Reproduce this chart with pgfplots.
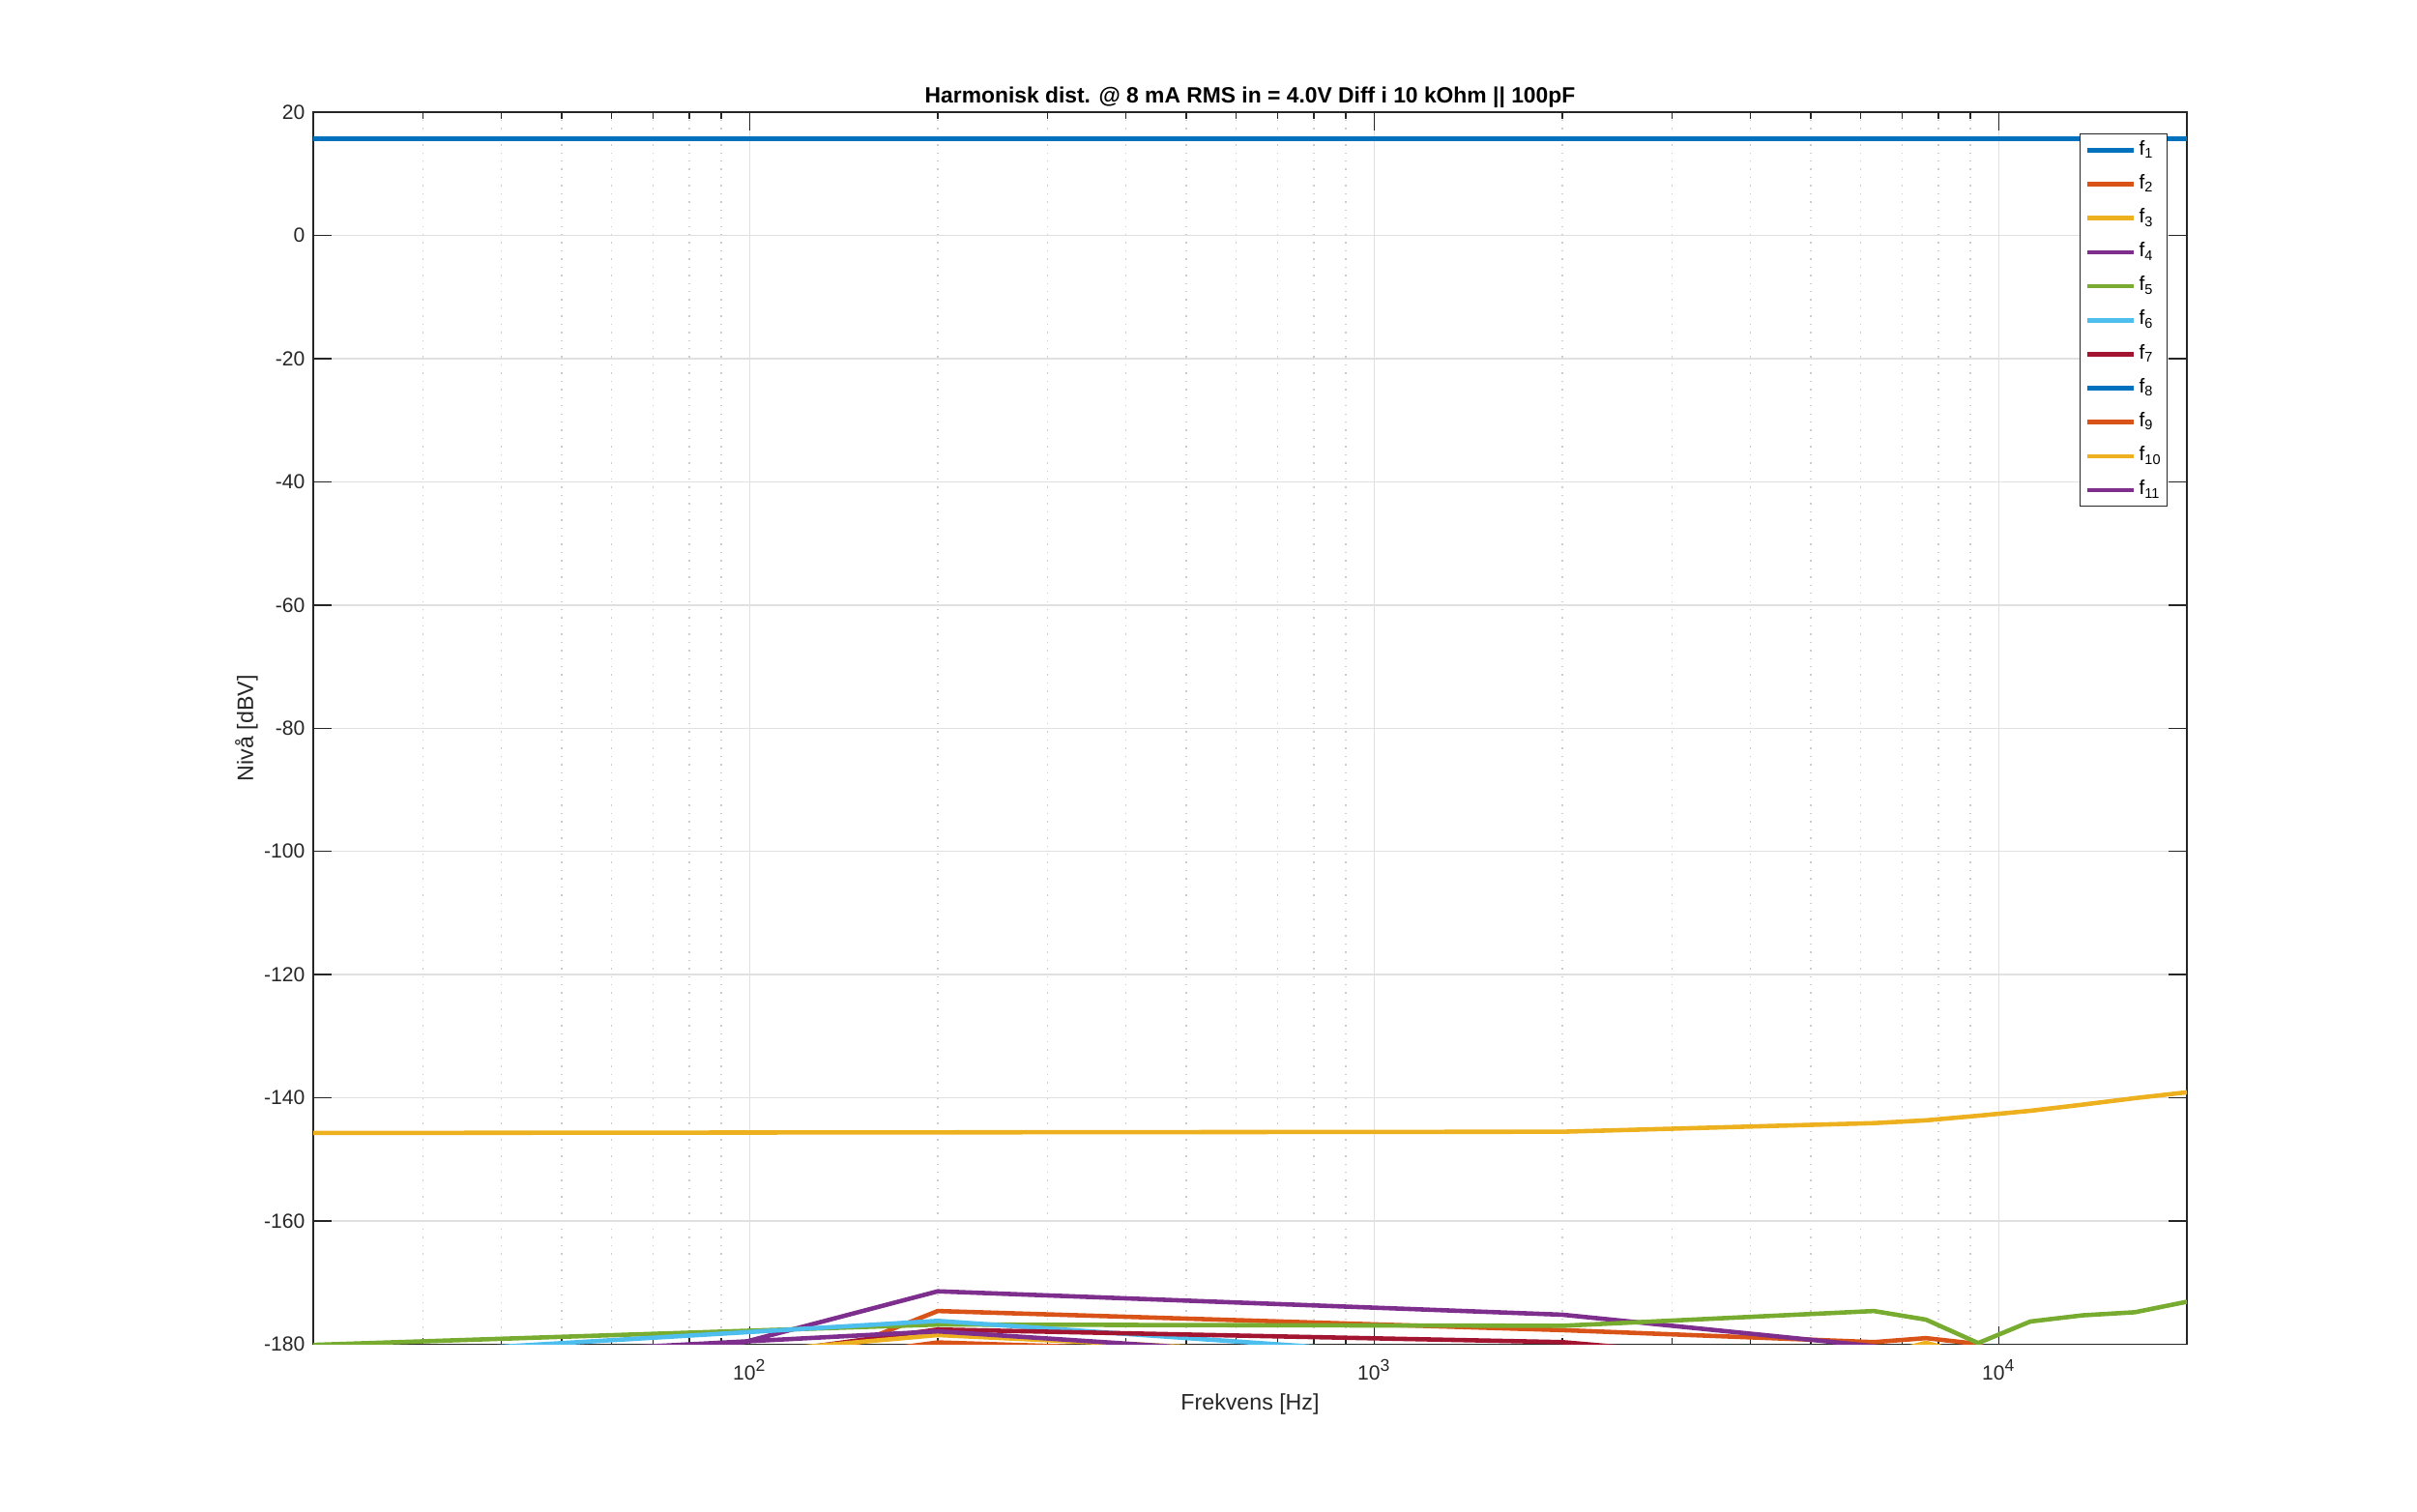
\documentclass[border=0pt]{standalone}
\usepackage{fontspec}
\setmainfont{Liberation Sans}
\usepackage{pgfplots}
\pgfplotsset{compat=1.18}

\definecolor{axcol}{RGB}{38,38,38}
\definecolor{c1}{RGB}{0,114,189}
\definecolor{c2}{RGB}{217,83,25}
\definecolor{c3}{RGB}{237,177,32}
\definecolor{c4}{RGB}{126,47,142}
\definecolor{c5}{RGB}{119,172,48}
\definecolor{c6}{RGB}{77,190,238}
\definecolor{c7}{RGB}{162,20,47}

\begin{document}
\begin{tikzpicture}
% page frame, same proportions as the 2500x1563 figure (1 cm = 100 px)
\path (-3.24,-1.725) rectangle (21.76,13.905);
\begin{axis}[
  at={(0,0)}, anchor=south west,
  scale only axis, width=19.38cm, height=12.745cm,
  xmode=log,
  xmin=20, xmax=20000, ymin=-180, ymax=20,
  xtick={100,1000,10000},
  xticklabels={10\textsuperscript{2},10\textsuperscript{3},10\textsuperscript{4}},
  minor xtick={30,40,50,60,70,80,90,200,300,400,500,600,700,800,900,2000,3000,4000,5000,6000,7000,8000,9000},
  ytick={-180,-160,...,20},
  /pgf/number format/assume math mode=true,
  tick align=inside,
  major tick length=0.19cm, minor tick length=0.07cm,
  every tick/.style={axcol, line width=0.4pt},
  axis line style={axcol, line width=0.45pt},
  xmajorgrids, ymajorgrids, xminorgrids,
  major grid style={color=black!12, line width=0.4pt},
  minor grid style={color=black!20, dotted, line width=0.4pt},
  ticklabel style={font=\fontsize{6.0}{7}\selectfont, text=axcol},
  xticklabel style={anchor=base, inner sep=0pt, yshift=-0.37cm},
  yticklabel style={anchor=east, inner sep=0pt, xshift=-0.08cm},
  every axis title shift=0pt,
  title={Harmonisk dist. @ 8 mA RMS in = 4.0V Diff i 10 kOhm || 100pF},
  title style={at={(axis description cs:0.5,1.0071)}, anchor=base, inner sep=0pt,
    font=\bfseries\fontsize{6.5}{7.5}\selectfont, text=black},
  xlabel={Frekvens [Hz]},
  xlabel style={at={(axis description cs:0.5,-0.053)}, anchor=base, inner sep=0pt,
    font=\fontsize{6.6}{7.5}\selectfont, text=axcol},
  ylabel={Nivå [dBV]},
  ylabel style={at={(axis description cs:-0.032,0.5)}, anchor=base, inner sep=0pt,
    font=\fontsize{6.6}{7.5}\selectfont, text=axcol},
  legend style={
    at={(axis description cs:0.9897,0.9827)}, anchor=north east,
    draw=axcol, line width=0.4pt, fill=white,
    font=\fontsize{5.9}{6.5}\selectfont, text=black,
    inner xsep=0.05cm, inner ysep=0.06cm,
    nodes={inner sep=0pt, text height=4.4pt, text depth=1.7pt, anchor=west},
    row sep=3.9pt, column sep=0.035cm,
  },
  legend cell align=left,
  legend image code/.code={\draw[#1] (0cm,0cm) -- (0.48cm,0cm);},
  every axis plot/.append style={line width=1.3pt},
]
% f1
\addplot[c1] coordinates {(20,15.7) (200,15.7) (2000,15.7) (6306,15.7) (7643,15.7)
  (9265,15.7) (11230,15.7) (13612,15.7) (16500,15.7) (20000,15.7)};
\addlegendentry{f\textsubscript{1}}
% f2
\addplot[c2] coordinates {(20,-214.8) (200,-174.6) (2000,-177.7) (6306,-179.65) (7643,-179.0)
  (9265,-179.95) (11230,-185) (13612,-188) (16500,-188) (20000,-188)};
\addlegendentry{f\textsubscript{2}}
% f3
\addplot[c3] coordinates {(20,-145.7) (200,-145.6) (2000,-145.5) (6306,-144.1) (7643,-143.65)
  (9265,-142.9) (11230,-142.1) (13612,-141.1) (16500,-140.05) (20000,-139.1)};
\addlegendentry{f\textsubscript{3}}
% f4
\addplot[c4] coordinates {(20,-198) (200,-171.4) (2000,-175.2) (6306,-180.3) (7643,-186)
  (9265,-188) (11230,-188) (13612,-188) (16500,-188) (20000,-188)};
\addlegendentry{f\textsubscript{4}}
% f5
\addplot[c5] coordinates {(20,-180.1) (200,-176.8) (2000,-177.0) (6306,-174.6) (7643,-176.0)
  (9265,-179.8) (11230,-176.3) (13612,-175.3) (16500,-174.8) (20000,-173.1)};
\addlegendentry{f\textsubscript{5}}
% f6
\addplot[c6] coordinates {(20,-182.2) (200,-176.2) (2000,-183.2) (6306,-190) (7643,-190)
  (9265,-190) (11230,-190) (13612,-190) (16500,-190) (20000,-190)};
\addlegendentry{f\textsubscript{6}}
% f7
\addplot[c7] coordinates {(20,-191.4) (200,-177.6) (2000,-179.65) (6306,-184) (7643,-188)
  (9265,-190) (11230,-190) (13612,-190) (16500,-190) (20000,-190)};
\addlegendentry{f\textsubscript{7}}
% f8 lies wholly below -180
\addlegendimage{c1, line width=1.3pt}
\addlegendentry{f\textsubscript{8}}
% f9
\addplot[c2] coordinates {(20,-193.2) (200,-179.7) (2000,-182.9) (6306,-190) (7643,-190)
  (9265,-190) (11230,-190) (13612,-190) (16500,-190) (20000,-190)};
\addlegendentry{f\textsubscript{9}}
% f10
\addplot[c3] coordinates {(20,-187.5) (200,-178.5) (2000,-183.3) (6306,-182) (7643,-179.75)
  (9265,-182) (11230,-190) (13612,-190) (16500,-190) (20000,-190)};
\addlegendentry{f\textsubscript{10}}
% f11
\addplot[c4] coordinates {(20,-183.2) (200,-177.9) (2000,-184.5) (6306,-190) (7643,-190)
  (9265,-190) (11230,-190) (13612,-190) (16500,-190) (20000,-190)};
\addlegendentry{f\textsubscript{11}}
\end{axis}
\end{tikzpicture}
\end{document}
